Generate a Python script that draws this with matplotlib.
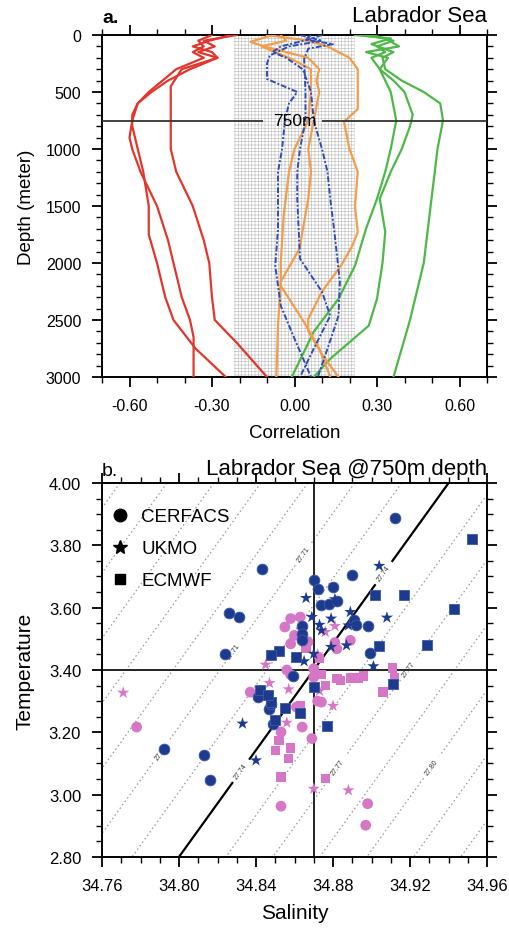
import numpy as np
import matplotlib
matplotlib.use("Agg")
import matplotlib.pyplot as plt
from matplotlib.lines import Line2D
from matplotlib.ticker import MultipleLocator, FormatStrFormatter

plt.rcParams['font.family'] = ['Liberation Sans', 'DejaVu Sans']
plt.rcParams['hatch.linewidth'] = 0.45
plt.rcParams['hatch.color'] = '#c2c2c2'

# ---------------- Panel a data: correlation profiles ----------------
red1_depth = [0, 50, 100, 150, 200, 300, 400, 500, 600, 700, 800, 900, 1000, 1200, 1500, 1750, 2000, 2300, 2500, 2750, 3000]
red1_corr = [-0.23, -0.31, -0.37, -0.30, -0.28, -0.38, -0.46, -0.52, -0.57, -0.59, -0.59, -0.58, -0.57, -0.55, -0.53, -0.53, -0.50, -0.47, -0.44, -0.36, -0.25]
red2_depth = [0, 50, 100, 150, 200, 300, 400, 500, 600, 750, 900, 1000, 1200, 1500, 1800, 2000, 2300, 2500, 2650, 3000]
red2_corr = [-0.30, -0.35, -0.33, -0.37, -0.33, -0.43, -0.48, -0.53, -0.57, -0.59, -0.60, -0.59, -0.56, -0.50, -0.46, -0.44, -0.41, -0.38, -0.367, -0.367]
red3_depth = [0, 50, 100, 150, 200, 300, 450, 700, 1000, 1200, 1500, 1800, 2000, 2300, 2500, 2700, 3000]
red3_corr = [-0.21, -0.33, -0.29, -0.35, -0.28, -0.41, -0.45, -0.45, -0.45, -0.43, -0.37, -0.33, -0.31, -0.30, -0.29, -0.21, -0.10]

green1_depth = [0, 30, 80, 150, 200, 300, 400, 500, 600, 750, 1000, 1500, 2000, 2500, 2750, 3000]
green1_corr = [0.22, 0.35, 0.28, 0.36, 0.32, 0.33, 0.39, 0.47, 0.53, 0.54, 0.52, 0.495, 0.47, 0.42, 0.39, 0.36]
green2_depth = [0, 30, 100, 150, 200, 300, 400, 500, 700, 800, 1000, 1200, 1437, 1726, 2000, 2314, 2550, 2840, 3000]
green2_corr = [0.24, 0.33, 0.38, 0.26, 0.34, 0.31, 0.36, 0.40, 0.43, 0.42, 0.39, 0.35, 0.31, 0.33, 0.32, 0.30, 0.27, 0.13, 0.07]
green3_depth = [0, 50, 100, 150, 200, 300, 400, 500, 750, 1000, 1200, 1437, 1700, 2024, 2314, 2603, 3000]
green3_corr = [0.28, 0.36, 0.30, 0.33, 0.28, 0.31, 0.33, 0.35, 0.37, 0.35, 0.33, 0.30, 0.26, 0.22, 0.16, 0.07, -0.01]

orange1_depth = [0, 50, 100, 200, 300, 500, 650, 760, 1000, 1200, 1500, 1730, 1850, 2020, 2250, 2490, 2600, 2800, 3000]
orange1_corr = [-0.10, 0.05, 0.12, 0.20, 0.23, 0.23, 0.23, 0.18, 0.20, 0.23, 0.22, 0.23, 0.21, 0.17, 0.10, 0.05, 0.05, 0.10, 0.16]
orange2_depth = [0, 60, 100, 200, 300, 400, 500, 750, 1000, 1200, 1437, 1875, 2165, 2550, 3000]
orange2_corr = [-0.08, -0.16, -0.11, 0.05, 0.09, 0.08, 0.09, 0.07, 0.05, 0.06, 0.05, 0.018, -0.05, -0.06, -0.066]
orange3_depth = [0, 50, 100, 200, 300, 500, 750, 1000, 1200, 1600, 2000, 2200, 2500, 2750, 3000]
orange3_corr = [-0.05, -0.03, -0.12, -0.02, 0.06, 0.06, 0.05, 0.0, -0.02, -0.04, -0.05, -0.05, 0.03, 0.09, 0.13]

blue1_depth = [0, 50, 100, 180, 250, 386, 500, 600, 750, 1000, 1200, 1437, 1700, 2024, 2375, 2664, 3000]
blue1_corr = [0.02, 0.10, -0.02, -0.09, -0.10, -0.10, 0.01, -0.02, -0.035, -0.045, -0.06, -0.06, -0.06, -0.07, -0.05, 0.0, 0.06]
blue2_depth = [0, 40, 80, 120, 210, 500, 750, 1000, 1200, 1437, 1700, 1963, 2253, 2463, 2752, 3000]
blue2_corr = [0.06, 0.04, 0.14, 0.05, 0.035, 0.04, 0.04, 0.02, 0.01, 0.01, 0.015, 0.02, 0.10, 0.13, 0.07, 0.02]
blue3_depth = [0, 40, 100, 150, 200, 300, 500, 750, 1000, 1200, 1437, 1726, 2165, 2463, 2752, 3000]
blue3_corr = [0.10, 0.05, -0.05, -0.08, -0.03, 0.03, 0.06, 0.07, 0.10, 0.12, 0.13, 0.145, 0.165, 0.16, 0.12, 0.085]

SIG_BAND = 0.22
REF_DEPTH = 750

# ---------------- Panel b data: T-S scatter ----------------
navy_circle_sal = [34.912, 34.843, 34.870, 34.872, 34.880, 34.890, 34.874, 34.878, 34.882, 34.826, 34.831,
                   34.824, 34.864, 34.864, 34.864, 34.891, 34.892, 34.898, 34.899, 34.859, 34.841, 34.847,
                   34.848, 34.849, 34.792, 34.813, 34.816]
navy_circle_temp = [3.889, 3.723, 3.688, 3.659, 3.665, 3.706, 3.607, 3.613, 3.620, 3.584, 3.570,
                    3.452, 3.540, 3.515, 3.495, 3.560, 3.545, 3.541, 3.455, 3.381, 3.313, 3.276,
                    3.292, 3.228, 3.145, 3.126, 3.046]
navy_star_sal = [34.866, 34.869, 34.879, 34.874, 34.881, 34.889, 34.888, 34.904, 34.908, 34.887, 34.901,
                 34.870, 34.879, 34.865, 34.833, 34.840, 34.873]
navy_star_temp = [3.631, 3.570, 3.565, 3.527, 3.627, 3.586, 3.543, 3.734, 3.568, 3.479, 3.412,
                  3.452, 3.474, 3.428, 3.228, 3.110, 3.545]
navy_square_sal = [34.952, 34.902, 34.917, 34.943, 34.929, 34.904, 34.852, 34.848, 34.861, 34.870, 34.911,
                   34.877, 34.863, 34.855, 34.848, 34.842, 34.850, 34.846]
navy_square_temp = [3.821, 3.642, 3.642, 3.595, 3.481, 3.477, 3.460, 3.447, 3.442, 3.345, 3.356,
                    3.220, 3.263, 3.278, 3.297, 3.335, 3.240, 3.320]

pink_circle_sal = [34.778, 34.858, 34.863, 34.855, 34.860, 34.858, 34.867, 34.856, 34.858, 34.870, 34.870,
                   34.889, 34.882, 34.881, 34.872, 34.874, 34.837, 34.861, 34.864, 34.853, 34.869,
                   34.853, 34.898, 34.897]
pink_circle_temp = [3.217, 3.565, 3.570, 3.538, 3.511, 3.484, 3.490, 3.400, 3.385, 3.404, 3.377,
                    3.495, 3.468, 3.488, 3.300, 3.297, 3.329, 3.281, 3.217, 3.201, 3.180,
                    2.963, 2.971, 2.902]
pink_star_sal = [34.771, 34.845, 34.847, 34.857, 34.856, 34.880, 34.873, 34.870, 34.888, 34.876, 34.881,
                 34.866, 34.872]
pink_star_temp = [3.327, 3.417, 3.358, 3.338, 3.231, 3.285, 3.333, 3.019, 3.014, 3.522, 3.541,
                  3.500, 3.450]
pink_square_sal = [34.873, 34.882, 34.876, 34.884, 34.889, 34.893, 34.896, 34.911, 34.912, 34.906, 34.863,
                   34.852, 34.850, 34.858, 34.857, 34.853, 34.876, 34.866, 34.874]
pink_square_temp = [3.436, 3.372, 3.351, 3.367, 3.374, 3.374, 3.381, 3.406, 3.377, 3.329, 3.287,
                    3.174, 3.142, 3.150, 3.116, 3.057, 3.051, 3.470, 3.385]

model_names = ['CERFACS', 'UKMO', 'ECMWF']
model_markers = ['o', '*', 's']

# isopycnal (linear equation of state about the reference point)
SAL_REF = 34.87
TEMP_REF = 3.40
SIG_REF = 27.74
HALINE = 0.615
THERMAL = 0.0718
plain_levels = [27.605, 27.62, 27.635, 27.65, 27.665, 27.68, 27.695, 27.725, 27.755,
                27.785, 27.815, 27.83, 27.845, 27.86]
label_levels = [27.71, 27.77, 27.80]

# ---------------- Figure ----------------
fig = plt.figure(figsize=(5.09, 9.29), dpi=100)
ax1 = fig.add_axes([102 / 509, 1 - 378 / 929, 385 / 509, 342 / 929])
ax2 = fig.add_axes([102 / 509, 1 - 858 / 929, 385 / 509, 374 / 929])

def style_axes(ax, size):
    for s in ax.spines.values():
        s.set_linewidth(1.4)
    ax.tick_params(which='both', direction='out', top=True, right=True, width=1.3)
    ax.tick_params(which='major', length=7, labelsize=size)
    ax.tick_params(which='minor', length=4, width=1.0)
    ax.tick_params(axis='x', which='major', pad=8)
    ax.tick_params(axis='y', which='major', pad=8)

# Panel a
ax1.set_xlim(-0.7, 0.7)
ax1.set_ylim(3000, 0)
ax1.axvspan(-SIG_BAND, SIG_BAND, facecolor='none', edgecolor='#c2c2c2', hatch='+++++', linewidth=0, zorder=0)

lw = 1.6
for d, c in [(red1_depth, red1_corr), (red2_depth, red2_corr), (red3_depth, red3_corr)]:
    ax1.plot(c, d, color='#e2362c', lw=lw, zorder=3)
for d, c in [(green1_depth, green1_corr), (green2_depth, green2_corr), (green3_depth, green3_corr)]:
    ax1.plot(c, d, color='#4db848', lw=lw, zorder=3)
for d, c in [(orange1_depth, orange1_corr), (orange2_depth, orange2_corr), (orange3_depth, orange3_corr)]:
    ax1.plot(c, d, color='#f39c4a', lw=lw, zorder=3)
for d, c in [(blue1_depth, blue1_corr), (blue2_depth, blue2_corr), (blue3_depth, blue3_corr)]:
    ax1.plot(c, d, color='#2f4db8', lw=1.4, ls=(0, (3, 1, 1, 1)), zorder=3)

ax1.hlines([REF_DEPTH, REF_DEPTH], [-0.7, 0.10], [-0.115, 0.7], color='#333333', lw=1.3, zorder=4)
ax1.text(0.0, REF_DEPTH, '%dm' % REF_DEPTH, ha='center', va='center', fontsize=12.5, zorder=5)

ax1.set_xticks([-0.6, -0.3, 0.0, 0.3, 0.6])
ax1.xaxis.set_major_formatter(FormatStrFormatter('%.2f'))
ax1.xaxis.set_minor_locator(MultipleLocator(0.1))
ax1.set_yticks([0, 500, 1000, 1500, 2000, 2500, 3000])
ax1.yaxis.set_minor_locator(MultipleLocator(100))
style_axes(ax1, 11.5)
ax1.set_xlabel('Correlation', fontsize=13.5, labelpad=8)
ax1.set_ylabel('Depth (meter)', fontsize=13.5, labelpad=8)
ax1.text(0.0, 1.025, 'a.', transform=ax1.transAxes, fontsize=14, fontweight='bold', ha='left', va='bottom')
ax1.text(1.0, 1.025, 'Labrador Sea', transform=ax1.transAxes, fontsize=16, ha='right', va='bottom')

# Panel b
ax2.set_xlim(34.76, 34.96)
ax2.set_ylim(2.80, 4.00)
S = np.linspace(34.76, 34.96, 300)
T = np.linspace(2.80, 4.00, 300)
SS, TT = np.meshgrid(S, T)
sigma = SIG_REF + HALINE * (SS - SAL_REF) - THERMAL * (TT - TEMP_REF)
dot_style = dict(colors='#999999', linewidths=0.9, linestyles=[(0, (1.2, 2.2))], zorder=1)
ax2.contour(SS, TT, sigma, levels=plain_levels, **dot_style)
cs_lab = ax2.contour(SS, TT, sigma, levels=label_levels, **dot_style)
cs_blk = ax2.contour(SS, TT, sigma, levels=[SIG_REF], colors='black', linewidths=1.6, zorder=2)
ax2.clabel(cs_lab, inline=True, fontsize=5, fmt='%.2f', colors='#333333',
           manual=[(34.8665, 3.763), (34.829, 3.458), (34.791, 3.137), (34.884, 3.082),
                   (34.9216, 3.394), (34.934, 3.076)])
ax2.clabel(cs_blk, inline=True, fontsize=5, fmt='%.2f', colors='#333333',
           manual=[(34.907, 3.708), (34.833, 3.073)])

ax2.axvline(SAL_REF, color='#222222', lw=1.4, zorder=2)
ax2.axhline(TEMP_REF, color='#222222', lw=1.4, zorder=2)

pink = '#d676c6'
navy = '#1e3a8c'
ax2.scatter(pink_circle_sal, pink_circle_temp, marker='o', s=60, color=pink, edgecolors='none', zorder=3)
ax2.scatter(pink_star_sal, pink_star_temp, marker='*', s=85, color=pink, edgecolors='none', zorder=3)
ax2.scatter(pink_square_sal, pink_square_temp, marker='s', s=45, color=pink, edgecolors='none', zorder=3)
ax2.scatter(navy_circle_sal, navy_circle_temp, marker='o', s=60, color=navy, edgecolors='#3a5ab0', linewidths=0.6, zorder=4)
ax2.scatter(navy_star_sal, navy_star_temp, marker='*', s=85, color=navy, edgecolors='none', zorder=4)
ax2.scatter(navy_square_sal, navy_square_temp, marker='s', s=45, color=navy, edgecolors='#3a5ab0', linewidths=0.6, zorder=4)

handles = [Line2D([], [], marker=m, color='black', ls='none', markersize=ms)
           for m, ms in zip(model_markers, [9, 10, 7.5])]
ax2.legend(handles, model_names, loc='upper left', bbox_to_anchor=(0.0, 0.963), frameon=False, fontsize=13.5,
           labelspacing=0.8, handletextpad=0.75, borderaxespad=0.2, handlelength=0.75)

ax2.set_xticks([34.76, 34.80, 34.84, 34.88, 34.92, 34.96])
ax2.xaxis.set_major_formatter(FormatStrFormatter('%.2f'))
ax2.xaxis.set_minor_locator(MultipleLocator(0.01))
ax2.set_yticks([2.8, 3.0, 3.2, 3.4, 3.6, 3.8, 4.0])
ax2.yaxis.set_major_formatter(FormatStrFormatter('%.2f'))
ax2.yaxis.set_minor_locator(MultipleLocator(0.05))
style_axes(ax2, 12)
ax2.set_xlabel('Salinity', fontsize=15, labelpad=7)
ax2.set_ylabel('Temperature', fontsize=15, labelpad=10)
ax2.text(0.0, 1.01, 'b.', transform=ax2.transAxes, fontsize=14, ha='left', va='bottom')
ax2.text(1.0, 1.01, 'Labrador Sea @750m depth', transform=ax2.transAxes, fontsize=16, ha='right', va='bottom')

fig.savefig('out.png', dpi=100)
